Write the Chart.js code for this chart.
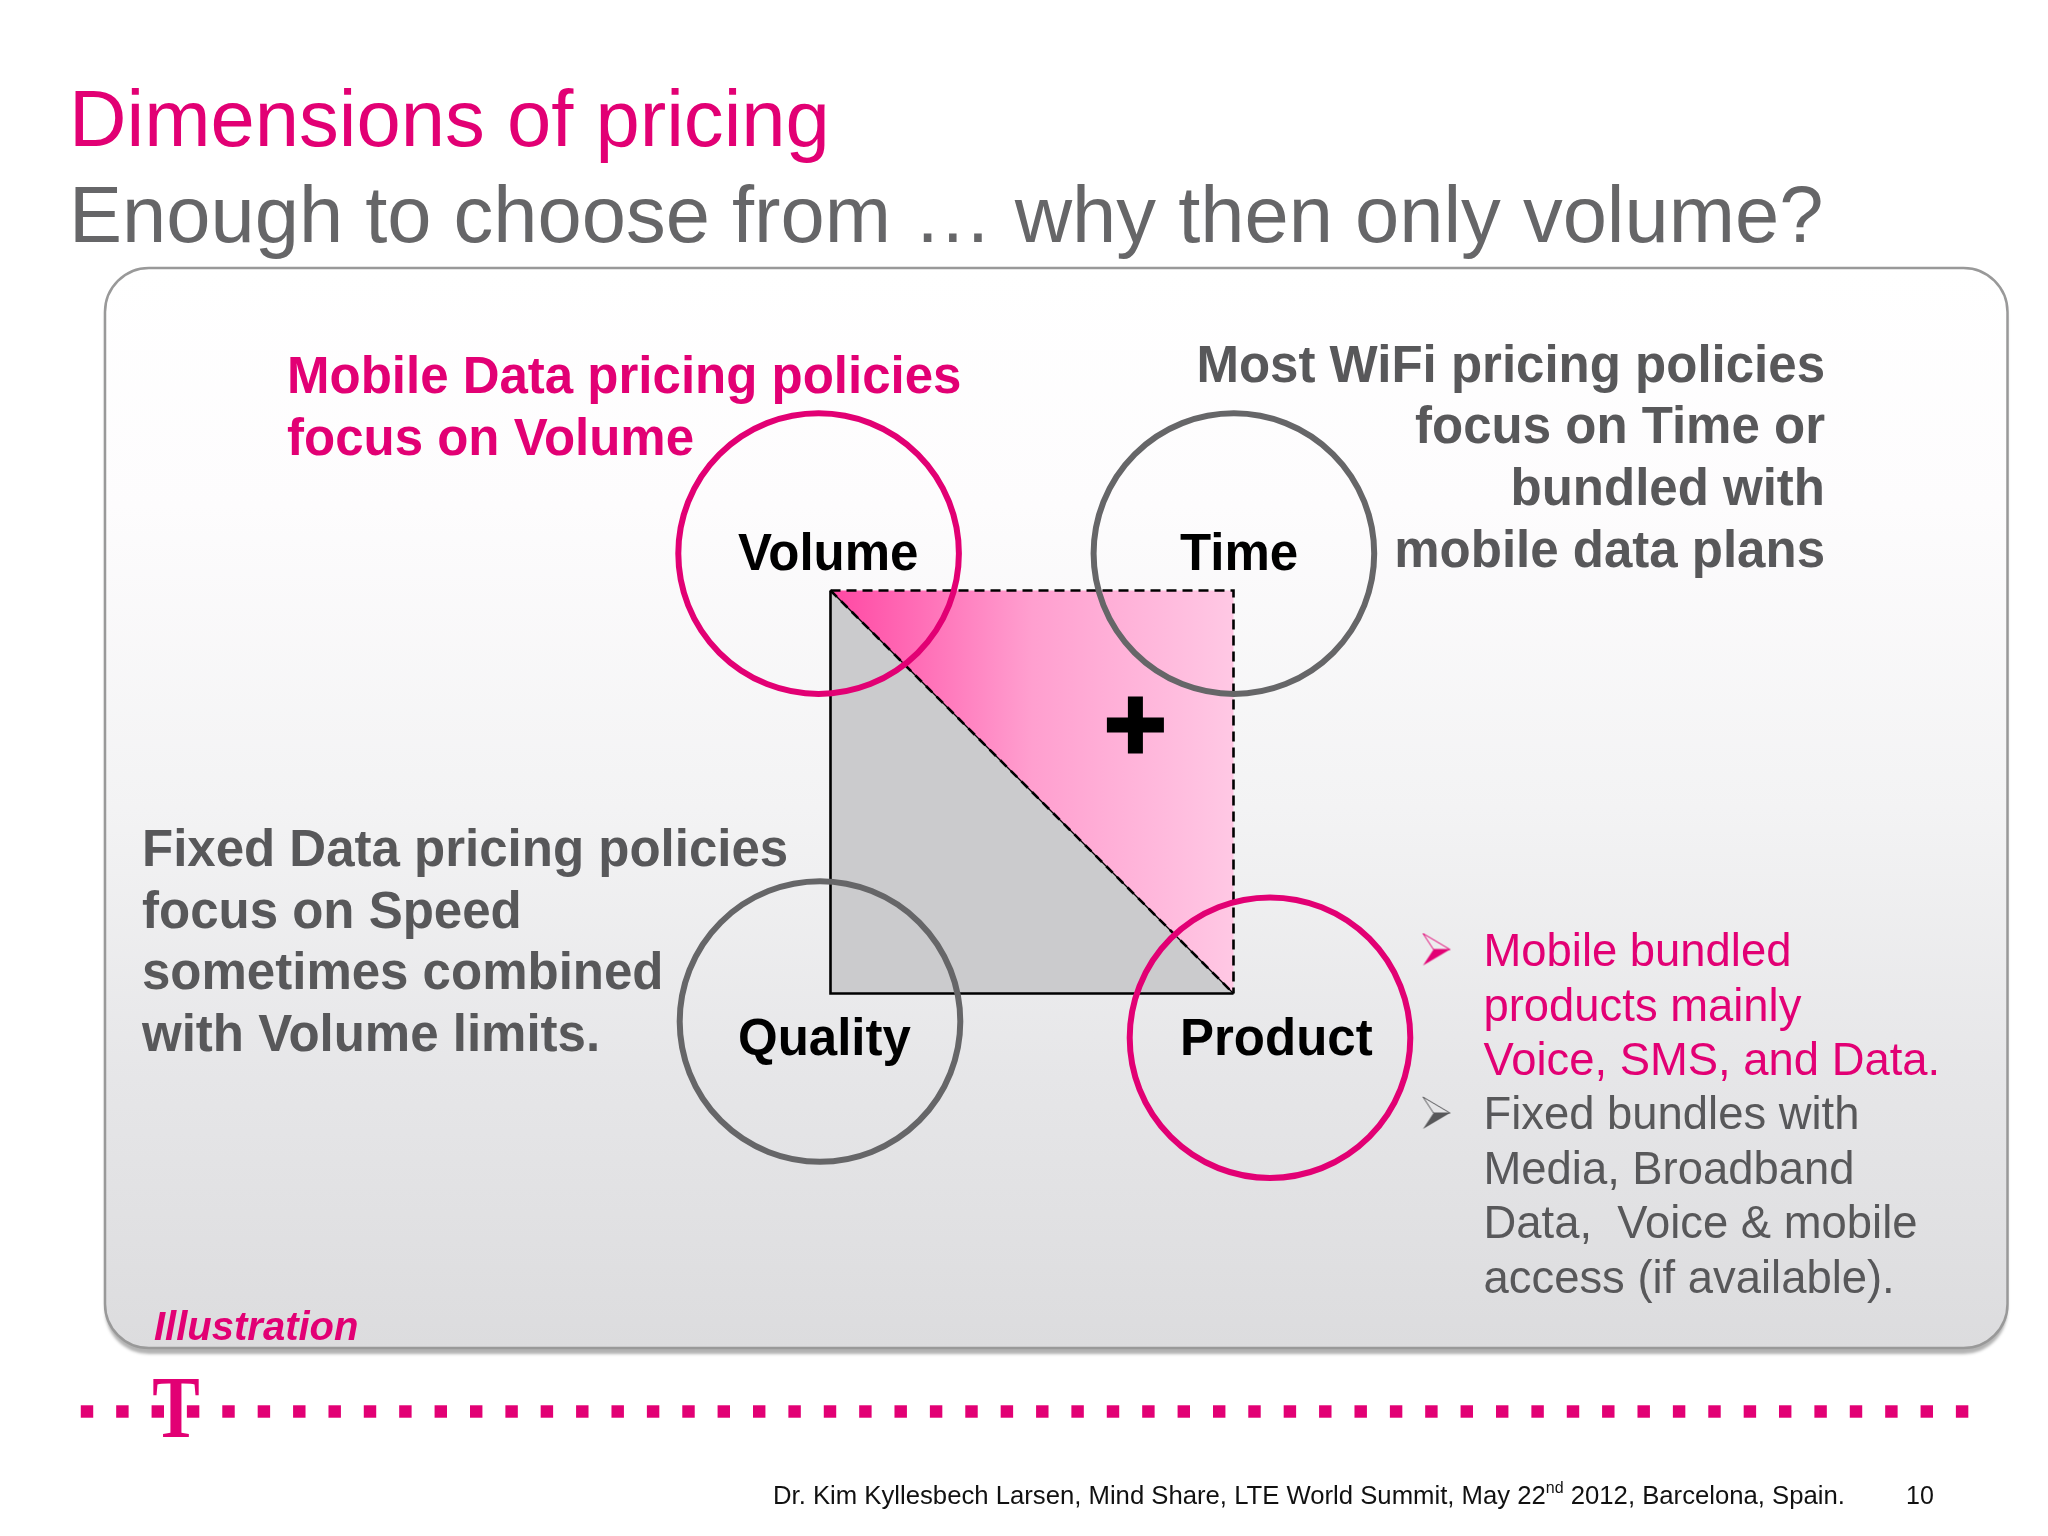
<!DOCTYPE html>
<html><head><meta charset="utf-8">
<style>html,body{margin:0;padding:0;background:#fff}canvas{display:block}</style>
<script src="https://cdn.jsdelivr.net/npm/chart.js@4"></script>
</head><body><canvas id="c" width="2048" height="1536" style="width:2048px;height:1536px"></canvas>
<script>
const titleText = "Dimensions of pricing";
const subtitleText = "Enough to choose from … why then only volume?";
const mobileNote = ["Mobile Data pricing policies", "focus on Volume"];
const wifiNote = ["Most WiFi pricing policies", "focus on Time or", "bundled with", "mobile data plans"];
const fixedNote = ["Fixed Data pricing policies", "focus on Speed", "sometimes combined", "with Volume limits."];
const mobileBullet = ["Mobile bundled", "products mainly", "Voice, SMS, and Data."];
const fixedBullet = ["Fixed bundles with", "Media, Broadband", "Data,  Voice & mobile", "access (if available)."];
const circleNames = ["Volume", "Time", "Quality", "Product"];
const circleX = [818.6, 1233.9, 820, 1270];
const circleY = [553.6, 553.6, 1021.5, 1037.7];
const squareX = [830.5, 1233.5];
const squareY = [590.5, 993.5];
const plusX = [1135.4];
const plusY = [725];
const bulletX = [1436.5];
const bulletY = [949.5, 1113];
const dotX = [87,122.4,157.8,193.1,228.5,263.9,299.3,334.7,370,405.4,440.8,476.2,511.6,546.9,582.3,617.7,653.1,688.5,723.8,759.2,794.6,830,865.4,900.7,936.1,971.5,1006.9,1042.3,1077.6,1113,1148.4,1183.8,1219.2,1254.5,1289.9,1325.3,1360.7,1396.1,1431.4,1466.8,1502.2,1537.6,1573,1608.3,1643.7,1679.1,1714.5,1749.9,1785.2,1820.6,1856,1891.4,1926.8,1962.1];
const dotY = 1411.5;

const MAGENTA = "#e20074", GREY = "#58585a", RING = "#666668";
const SANS = '"Liberation Sans", Arial, sans-serif';
const [L, R] = squareX, [T, B] = squareY;

const panel = {
  id: "panel",
  beforeDatasetsDraw(chart) {
    const { ctx, scales: { x, y } } = chart;
    const px = x.getPixelForValue(105), py = y.getPixelForValue(268);
    const pw = x.getPixelForValue(2007.5) - px, ph = y.getPixelForValue(1348) - py;
    const g = ctx.createLinearGradient(0, py, 0, py + ph);
    g.addColorStop(0, "#ffffff");
    g.addColorStop(0.22, "#fdfcfd");
    g.addColorStop(0.5, "#f3f3f4");
    g.addColorStop(0.75, "#e6e6e8");
    g.addColorStop(1, "#dcdcde");
    ctx.save();
    ctx.beginPath();
    ctx.roundRect(px, py, pw, ph, 44);
    ctx.shadowColor = "rgba(0,0,0,0.3)";
    ctx.shadowOffsetY = 6;
    ctx.shadowBlur = 3;
    ctx.fillStyle = g;
    ctx.fill();
    ctx.shadowColor = "transparent";
    ctx.lineWidth = 2.5;
    ctx.strokeStyle = "#999999";
    ctx.stroke();
    ctx.restore();
  }
};

function put(ctx, s, x, y, font, color, align) {
  ctx.font = font; ctx.fillStyle = color; ctx.textAlign = align || "left";
  ctx.textBaseline = "alphabetic";
  ctx.fillText(s, x, y);
}

const labels = {
  id: "labels",
  afterDatasetsDraw(chart) {
    const { ctx } = chart;
    ctx.save();
    put(ctx, titleText, 69, 146, `79.6px ${SANS}`, MAGENTA);
    put(ctx, subtitleText, 69, 242, `79.5px ${SANS}`, "#666668");
    const b51 = `bold 51px ${SANS}`;
    mobileNote.forEach((s, i) => put(ctx, s, 287, 393 + i * 61.7, b51, MAGENTA));
    wifiNote.forEach((s, i) => put(ctx, s, 1825, 381.5 + i * 61.7, b51, GREY, "right"));
    fixedNote.forEach((s, i) => put(ctx, s, 142, 866 + i * 61.5, b51, GREY));
    const lb = `bold 51px ${SANS}`;
    put(ctx, circleNames[0], 738, 569.5, lb, "#000");
    put(ctx, circleNames[1], 1180, 569.5, lb, "#000");
    put(ctx, circleNames[2], 738, 1055, lb, "#000");
    put(ctx, circleNames[3], 1180, 1055, lb, "#000");
    const r46 = `45.4px ${SANS}`;
    mobileBullet.forEach((s, i) => put(ctx, s, 1483.5, 966 + i * 54.7, r46, MAGENTA));
    fixedBullet.forEach((s, i) => put(ctx, s, 1483.5, 1129 + i * 54.7, r46, GREY));
    put(ctx, "Illustration", 154, 1340, `italic bold 40px ${SANS}`, MAGENTA);
    // T logo
    ctx.save();
    ctx.translate(176, 1436.5);
    ctx.scale(0.81, 1);
    put(ctx, "T", 0, 0, `bold 88px "Liberation Serif"`, MAGENTA, "center");
    ctx.restore();
    // footer
    const f = `25.7px ${SANS}`, fs = `16px ${SANS}`;
    let fx = 773;
    const a = "Dr. Kim Kyllesbech Larsen, Mind Share, LTE World Summit, May 22";
    put(ctx, a, fx, 1504, f, "#111"); fx += ctx.measureText(a).width;
    put(ctx, "nd", fx, 1493, fs, "#111"); fx += ctx.measureText("nd").width;
    put(ctx, " 2012, Barcelona, Spain.", fx, 1504, f, "#111");
    put(ctx, "10", 1906, 1504, `25px ${SANS}`, "#111");
    ctx.restore();
  }
};

function arrowGlyph(color) {
  const c = document.createElement("canvas");
  c.width = 30; c.height = 34;
  const g = c.getContext("2d");
  g.fillStyle = color; g.strokeStyle = color; g.lineWidth = 1; g.lineJoin = "miter";
  g.beginPath(); g.moveTo(1.5, 1); g.lineTo(28.5, 17); g.lineTo(12, 17); g.closePath(); g.stroke();
  g.beginPath(); g.moveTo(12, 17); g.lineTo(28.5, 17); g.lineTo(1.5, 33); g.closePath(); g.fill();
  return c;
}

const pts = (xs, ys) => xs.map((v, i) => ({ x: v, y: ys[i] }));
const edge = (xs, ys, extra) => Object.assign({
  data: pts(xs, ys), showLine: true, pointRadius: 0, borderColor: "#000", borderWidth: 2.6, fill: false, tension: 0
}, extra);

new Chart(document.getElementById("c"), {
  type: "scatter",
  data: { datasets: [
    { data: dotX.map(v => ({ x: v, y: dotY })), pointStyle: "rect", pointRadius: 8.8, pointBorderWidth: 0, pointBackgroundColor: MAGENTA },
    { data: pts(plusX, plusY), pointStyle: "cross", pointRadius: 28.5, pointBorderWidth: 15, pointBorderColor: "#000" },
    { data: pts([bulletX[0]], [bulletY[0]]), pointStyle: arrowGlyph(MAGENTA), pointRadius: 17 },
    { data: pts([bulletX[0]], [bulletY[1]]), pointStyle: arrowGlyph(GREY), pointRadius: 17 },
    { data: pts([circleX[0], circleX[3]], [circleY[0], circleY[3]]),
      pointRadius: 140.3, pointBorderWidth: 6, pointBorderColor: MAGENTA, pointBackgroundColor: "transparent", pointHoverRadius: 140.3 },
    { data: pts([circleX[1], circleX[2]], [circleY[1], circleY[2]]),
      pointRadius: 140.3, pointBorderWidth: 6, pointBorderColor: RING, pointBackgroundColor: "transparent", pointHoverRadius: 140.3 },
    edge([L, R, R], [T, T, B], { borderDash: [10, 6] }),
    edge([L, R], [T, B], { borderDash: [9, 6] }),
    edge([L, R], [T, B], { borderWidth: 1.2 }),
    edge([L, L, R], [T, B, B]),
    edge([L, L, R, L], [T, B, B, T], { borderWidth: 0, fill: "shape", backgroundColor: "#cbcbcd" }),
    edge([L, R, R, L], [T, T, B, T], { borderWidth: 0, fill: "shape",
      backgroundColor(c) {
        const x0 = c.chart.scales.x.getPixelForValue(L), x1 = c.chart.scales.x.getPixelForValue(R);
        if (!isFinite(x0) || !isFinite(x1)) return "#ff9fcf";
        const g = c.chart.ctx.createLinearGradient(x0, 0, x1, 0);
        g.addColorStop(0, "#ff47a3"); g.addColorStop(0.5, "#ff9fcf"); g.addColorStop(1, "#ffc8e4");
        return g;
      } })
  ] },
  options: {
    responsive: false, animation: false, devicePixelRatio: 1,
    layout: { padding: 0, autoPadding: false },
    events: [],
    plugins: { legend: { display: false }, tooltip: { enabled: false }, title: { display: false } },
    scales: {
      x: { type: "linear", min: 0, max: 2048, display: false },
      y: { type: "linear", min: 0, max: 1536, reverse: true, display: false }
    }
  },
  plugins: [panel, labels]
});
</script></body></html>
